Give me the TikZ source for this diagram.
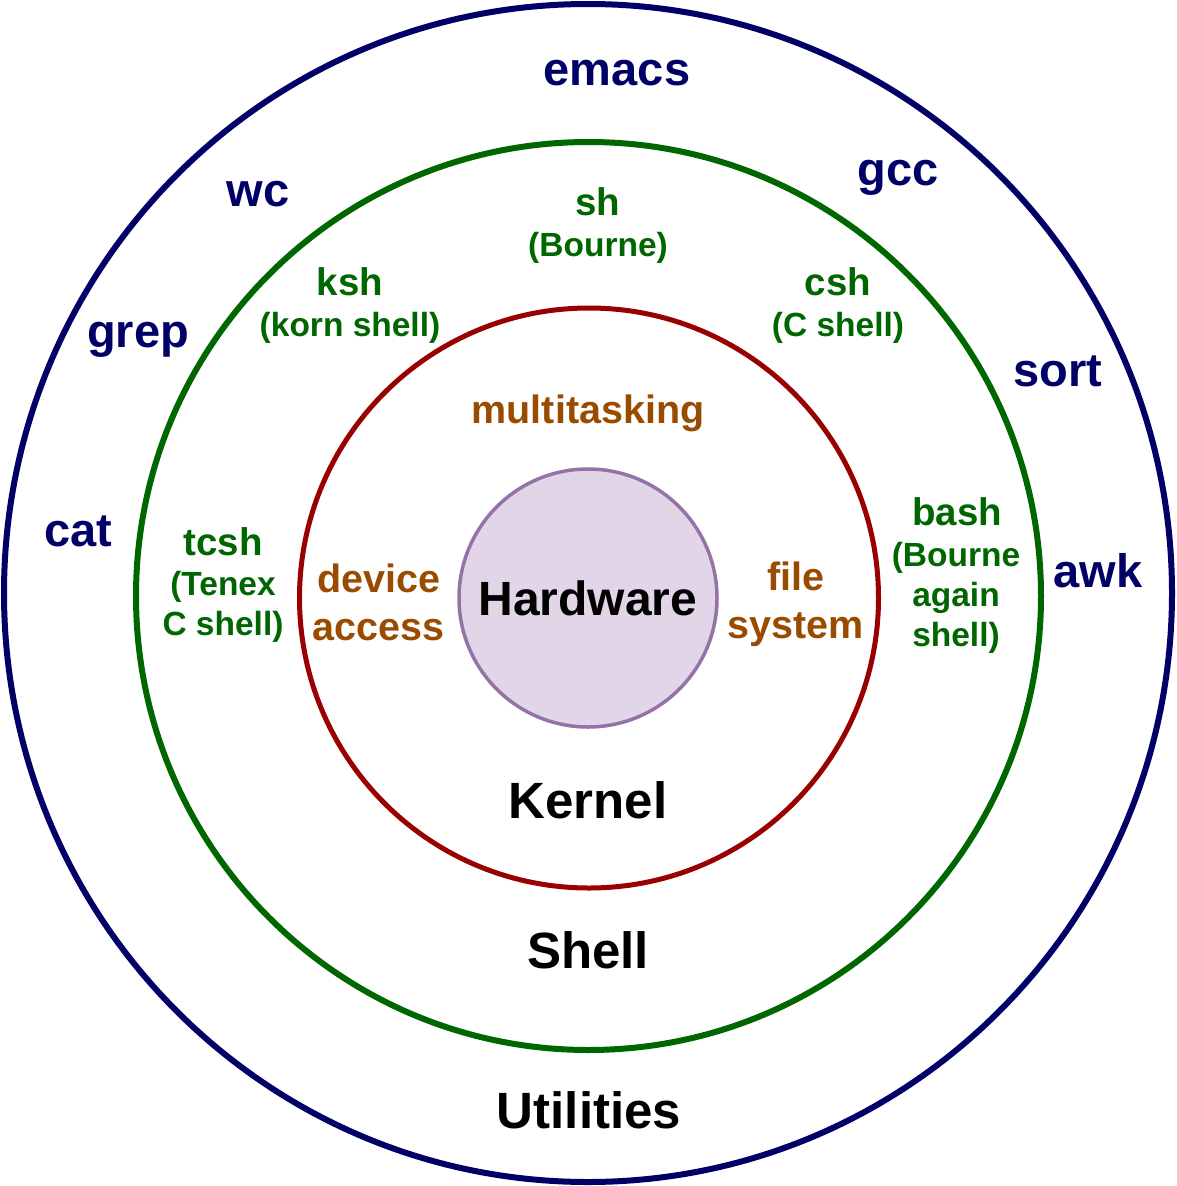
\documentclass[tikz,border=0pt]{standalone}
\usepackage{fontspec}
\setmainfont{Liberation Sans}
\usetikzlibrary{shapes.geometric}
\definecolor{utilblue}{RGB}{0,0,102}
\definecolor{shellgreen}{RGB}{0,102,0}
\definecolor{kernelred}{RGB}{153,0,0}
\definecolor{kernelorange}{RGB}{153,76,0}
\definecolor{hwfill}{RGB}{225,213,231}
\definecolor{hwdraw}{RGB}{150,115,166}
\tikzset{
  ring/.style   = {ellipse, draw, inner sep=0pt, outer sep=0pt},
  core/.style   = {circle, draw, inner sep=0pt, outer sep=0pt},
  util/.style   = {text=utilblue, font=\fontsize{47}{52}\selectfont\bfseries},
  layer/.style  = {font=\fontsize{51}{56}\selectfont\bfseries},
  shname/.style = {text=shellgreen, font=\fontsize{38.5}{44}\selectfont\bfseries},
  shsub/.style  = {text=shellgreen, align=center,
                   font=\fontsize{33.5}{40}\selectfont\bfseries},
  kfun/.style   = {text=kernelorange, align=center,
                   font=\fontsize{39.5}{48}\selectfont\bfseries}
}
\begin{document}
\begin{tikzpicture}[x=1pt, y=-1pt, inner sep=0pt]
  \useasboundingbox (0,0) rectangle (1176,1186);

  % Rings
  \node[ring, draw=utilblue, line width=6pt,
        minimum width=1168pt, minimum height=1178pt] (utils)  at (588,593) {};
  \node[ring, draw=shellgreen, line width=6pt,
        minimum width=905pt, minimum height=908pt]   (shell)  at (588.5,596) {};
  \node[ring, draw=kernelred, line width=5pt,
        minimum width=579pt, minimum height=580pt]   (kernel) at (589,598) {};
  \node[core, draw=hwdraw, fill=hwfill, line width=3.5pt, minimum size=258pt,
        font=\fontsize{48}{54}\selectfont\bfseries]  (hw)     at (588,598) {Hardware};

  % Utilities
  \node[util] (emacs) at (617,73)   {emacs};
  \node[util] (wc)    at (258,194)  {wc};
  \node[util] (gcc)   at (898,178)  {gcc};
  \node[util] (grep)  at (138,340)  {grep};
  \node[util] (sort)  at (1058,371) {sort};
  \node[util] (cat)   at (78,531)   {cat};
  \node[util] (awk)   at (1098,571) {awk};

  % Shells
  \node[shname] (sh)      at (598,202) {sh};
  \node[shsub]  (shsub)   at (598,248) {(Bourne)};
  \node[shname] (ksh)     at (350,282) {ksh};
  \node[shsub]  (kshsub)  at (350,328) {(korn shell)};
  \node[shname] (csh)     at (838,282) {csh};
  \node[shsub]  (cshsub)  at (838,328) {(C shell)};
  \node[shname] (tcsh)    at (223,542) {tcsh};
  \node[shsub]  (tcshsub) at (223,607) {(Tenex\\C shell)};
  \node[shname] (bash)    at (957,512) {bash};
  \node[shsub]  (bashsub) at (956,598) {(Bourne\\again\\shell)};

  % Kernel functions
  \node[kfun] (multi)  at (588,413)   {multitasking};
  \node[kfun] (device) at (378.5,602) {device\\access};
  \node[kfun] (files)  at (796,604)   {file\\system};

  % Layer names
  \node[layer] (kernlab)  at (588,800)  {Kernel};
  \node[layer] (shelllab) at (588,950)  {Shell};
  \node[layer] (utillab)  at (589,1110) {Utilities};
\end{tikzpicture}
\end{document}
